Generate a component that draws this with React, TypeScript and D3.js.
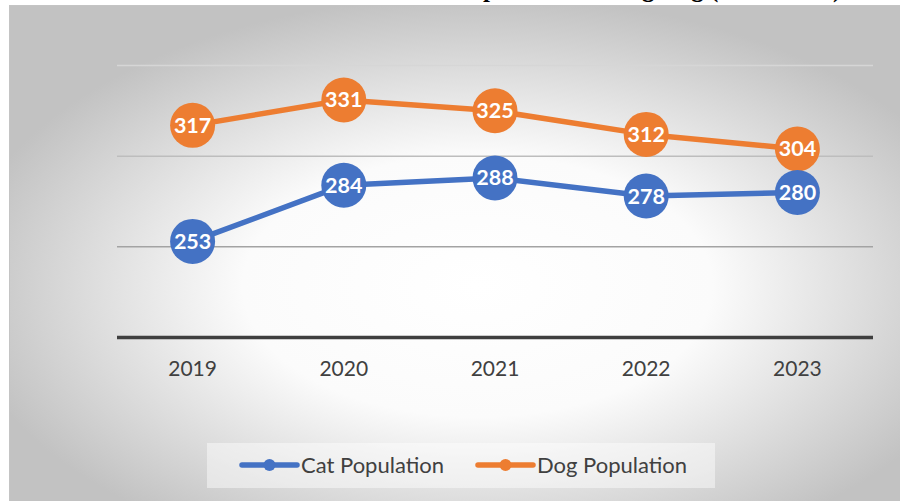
import React from "react";
import * as d3 from "d3";

const years = ["2019", "2020", "2021", "2022", "2023"];
const catPopulation = [253, 284, 288, 278, 280];
const dogPopulation = [317, 331, 325, 312, 304];
const yTicks = [200, 250, 300, 350];
const seriesNames = ["Cat Population", "Dog Population"];
const seriesColors = ["#4472C4", "#ED7D31"];
const titleText = "Trends in Cat Population Among Dog (in Millions)";

export default function App() {
  const W = 900;
  const H = 501;
  const x = d3.scalePoint<string>().domain(years).range([117, 873]).padding(0.5);
  const y = d3.scaleLinear().domain([200, 350]).range([337.5, 65.5]);
  const line = d3
    .line<number>()
    .x((_, i) => x(years[i]) as number)
    .y((d) => y(d));

  const series = [
    { name: seriesNames[1], color: seriesColors[1], values: dogPopulation },
    { name: seriesNames[0], color: seriesColors[0], values: catPopulation },
  ];

  const gridColors: Record<number, string> = { 250: "#a3a3a3", 300: "#bdbdbd", 350: "#d6d6d6" };
  const font = "Lato, 'Open Sans', sans-serif";

  const legendItems = [
    { name: seriesNames[0], color: seriesColors[0], x0: 242 },
    { name: seriesNames[1], color: seriesColors[1], x0: 478 },
  ];

  return (
    <svg
      width={W}
      height={H}
      style={{ position: "absolute", left: 0, top: 0, background: "#fff" }}
    >
      <defs>
        <radialGradient id="bg" cx="52%" cy="56%" r="58%">
          <stop offset="0" stopColor="#ffffff" />
          <stop offset="0.45" stopColor="#fbfbfb" />
          <stop offset="1" stopColor="#c2c2c2" />
        </radialGradient>
      </defs>
      <text
        x={572}
        y={-3}
        textAnchor="middle"
        fontFamily="'Liberation Serif', 'Times New Roman', serif"
        fontWeight="bold"
        fontSize={25}
        fill="#000"
      >
        {titleText}
      </text>
      <rect x={9.5} y={5.5} width={W} height={H} fill="url(#bg)" stroke="#c4c4c4" strokeWidth={1} />

      {yTicks.map((t) =>
        t === 200 ? null : (
          <line
            key={t}
            x1={117}
            x2={873}
            y1={y(t)}
            y2={y(t)}
            stroke={gridColors[t]}
            strokeWidth={1.5}
          />
        )
      )}
      <line x1={117} x2={873} y1={y(200)} y2={y(200)} stroke="#3f3f3f" strokeWidth={3.5} />

      {years.map((yr) => (
        <text
          key={yr}
          x={x(yr)}
          y={376}
          textAnchor="middle"
          fontFamily={font}
          fontSize={21}
          fill="#404040"
        >
          {yr}
        </text>
      ))}

      {series.map((s) => (
        <path
          key={s.name + "l"}
          d={line(s.values) || ""}
          fill="none"
          stroke={s.color}
          strokeWidth={5.5}
          strokeLinejoin="round"
          strokeLinecap="round"
        />
      ))}
      {series.map((s) => (
        <g key={s.name + "m"}>
          {s.values.map((v, i) => (
            <circle key={i} cx={x(years[i])} cy={y(v)} r={22.5} fill={s.color} />
          ))}
        </g>
      ))}
      {series.map((s) => (
        <g key={s.name + "t"}>
          {s.values.map((v, i) => (
            <text
              key={i}
              x={x(years[i])}
              y={y(v) + 7.5}
              textAnchor="middle"
              fontFamily={font}
              fontWeight="bold"
              fontSize={21.5}
              fill="#ffffff"
            >
              {v}
            </text>
          ))}
        </g>
      ))}

      <rect x={207} y={443} width={508} height={45} fill="#ffffff" fillOpacity={0.45} />
      {legendItems.map((it) => (
        <g key={it.name}>
          <line
            x1={it.x0}
            x2={it.x0 + 55}
            y1={465}
            y2={465}
            stroke={it.color}
            strokeWidth={5.5}
            strokeLinecap="round"
          />
          <circle cx={it.x0 + 27.5} cy={465} r={6} fill={it.color} />
          <text x={it.x0 + 59} y={473} fontFamily={font} fontSize={22} fill="#404040">
            {it.name}
          </text>
        </g>
      ))}
    </svg>
  );
}
